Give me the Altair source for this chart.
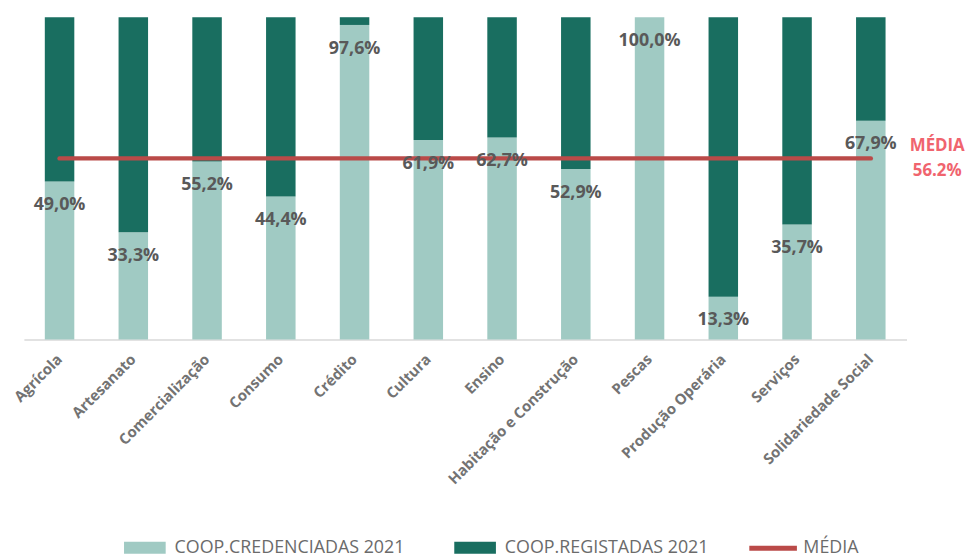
import altair as alt
import pandas as pd

categories = ["Agrícola", "Artesanato", "Comercialização", "Consumo", "Crédito", "Cultura",
              "Ensino", "Habitação e Construção", "Pescas", "Produção Operária", "Serviços",
              "Solidariedade Social"]
cred_pct = [49.0, 33.3, 55.2, 44.4, 97.6, 61.9, 62.7, 52.9, 100.0, 13.3, 35.7, 67.9]
reg_pct = [51.0, 66.7, 44.8, 55.6, 2.4, 38.1, 37.3, 47.1, 0.0, 86.7, 64.3, 32.1]
media = 56.2

S_CRED = "COOP.CREDENCIADAS 2021"
S_REG = "COOP.REGISTADAS 2021"
S_MEDIA = "MÉDIA"

rows = []
for c, a, b in zip(categories, cred_pct, reg_pct):
    rows.append({"cat": c, "serie": S_CRED, "val": a, "ord": 0})
    rows.append({"cat": c, "serie": S_REG, "val": b, "ord": 1})
bars_df = pd.DataFrame(rows)

lab_df = pd.DataFrame({
    "cat": categories,
    "val": cred_pct,
    "lab": [f"{v:.1f}".replace(".", ",") + "%" for v in cred_pct],
})
line_df = pd.DataFrame({"cat": categories, "val": [media] * len(categories), "serie": S_MEDIA})
ann_df = pd.DataFrame({"val": [media], "t1": ["MÉDIA"], "t2": [f"{media:.1f}%"]})

FONT = "Open Sans"
W, H = 890, 325

xenc = alt.X("cat:N", sort=categories, title=None,
             scale=alt.Scale(paddingInner=0.6, paddingOuter=0.284),
             axis=alt.Axis(labelAngle=-45, labelAlign="right", labelBaseline="middle",
                           labelPadding=17, ticks=False, domainColor="#D9D9D9",
                           domainWidth=1.5, labelFont=FONT, labelFontSize=15,
                           labelFontWeight="bold", labelColor="#737373", grid=False,
                           labelLimit=400))
yscale = alt.Scale(domain=[0, 100])

bars = alt.Chart(bars_df).mark_bar().encode(
    x=xenc,
    y=alt.Y("val:Q", stack="zero", scale=yscale, axis=None),
    color=alt.Color("serie:N", sort=[S_CRED, S_REG],
                    scale=alt.Scale(domain=[S_CRED, S_REG], range=["#A0CAC3", "#196E60"]),
                    legend=alt.Legend(title=None, orient="none", direction="horizontal",
                                      legendX=101, legendY=514,
                                      symbolType="M-1,-0.29H1V0.29H-1Z", symbolSize=1764,
                                      symbolStrokeWidth=0, labelFont=FONT, labelFontSize=18,
                                      labelColor="#6B6B6B", labelOffset=9, columnPadding=50,
                                      labelLimit=500)),
    order=alt.Order("ord:Q"),
)

line = alt.Chart(line_df).mark_line(strokeWidth=4.5, strokeCap="round").encode(
    x=alt.X("cat:N", sort=categories),
    y=alt.Y("val:Q", scale=yscale),
    stroke=alt.Stroke("serie:N",
                      scale=alt.Scale(domain=[S_MEDIA], range=["#BA4A48"]),
                      legend=alt.Legend(title=None, orient="none", direction="horizontal",
                                        legendX=729, legendY=509, symbolType="stroke",
                                        symbolSize=2304, symbolStrokeWidth=5,
                                        labelFont=FONT, labelFontSize=18,
                                        labelColor="#6B6B6B", labelOffset=4,
                                        labelLimit=300)),
)

labels = alt.Chart(lab_df).mark_text(font=FONT, fontSize=18, fontWeight="bold",
                                     color="#595959", baseline="middle", dy=24).encode(
    x=alt.X("cat:N", sort=categories),
    y=alt.Y("val:Q", scale=yscale),
    text="lab:N",
)

ann1 = alt.Chart(ann_df).mark_text(font=FONT, fontSize=17, fontWeight="bold",
                                   color="#F0646E", align="center", dy=-12).encode(
    x=alt.value(W + 31), y=alt.Y("val:Q", scale=yscale), text="t1:N")
ann2 = alt.Chart(ann_df).mark_text(font=FONT, fontSize=17, fontWeight="bold",
                                   color="#F0646E", align="center", dy=13).encode(
    x=alt.value(W + 31), y=alt.Y("val:Q", scale=yscale), text="t2:N")

chart = alt.layer(bars, line, labels, ann1, ann2).properties(
    width=W, height=H,
    autosize=alt.AutoSizeParams(type="none"),
    padding={"left": 16, "top": 7, "right": 60, "bottom": 218},
).configure_view(stroke=None)

chart.save("out.html", embed_options={"renderer": "svg", "actions": False})
